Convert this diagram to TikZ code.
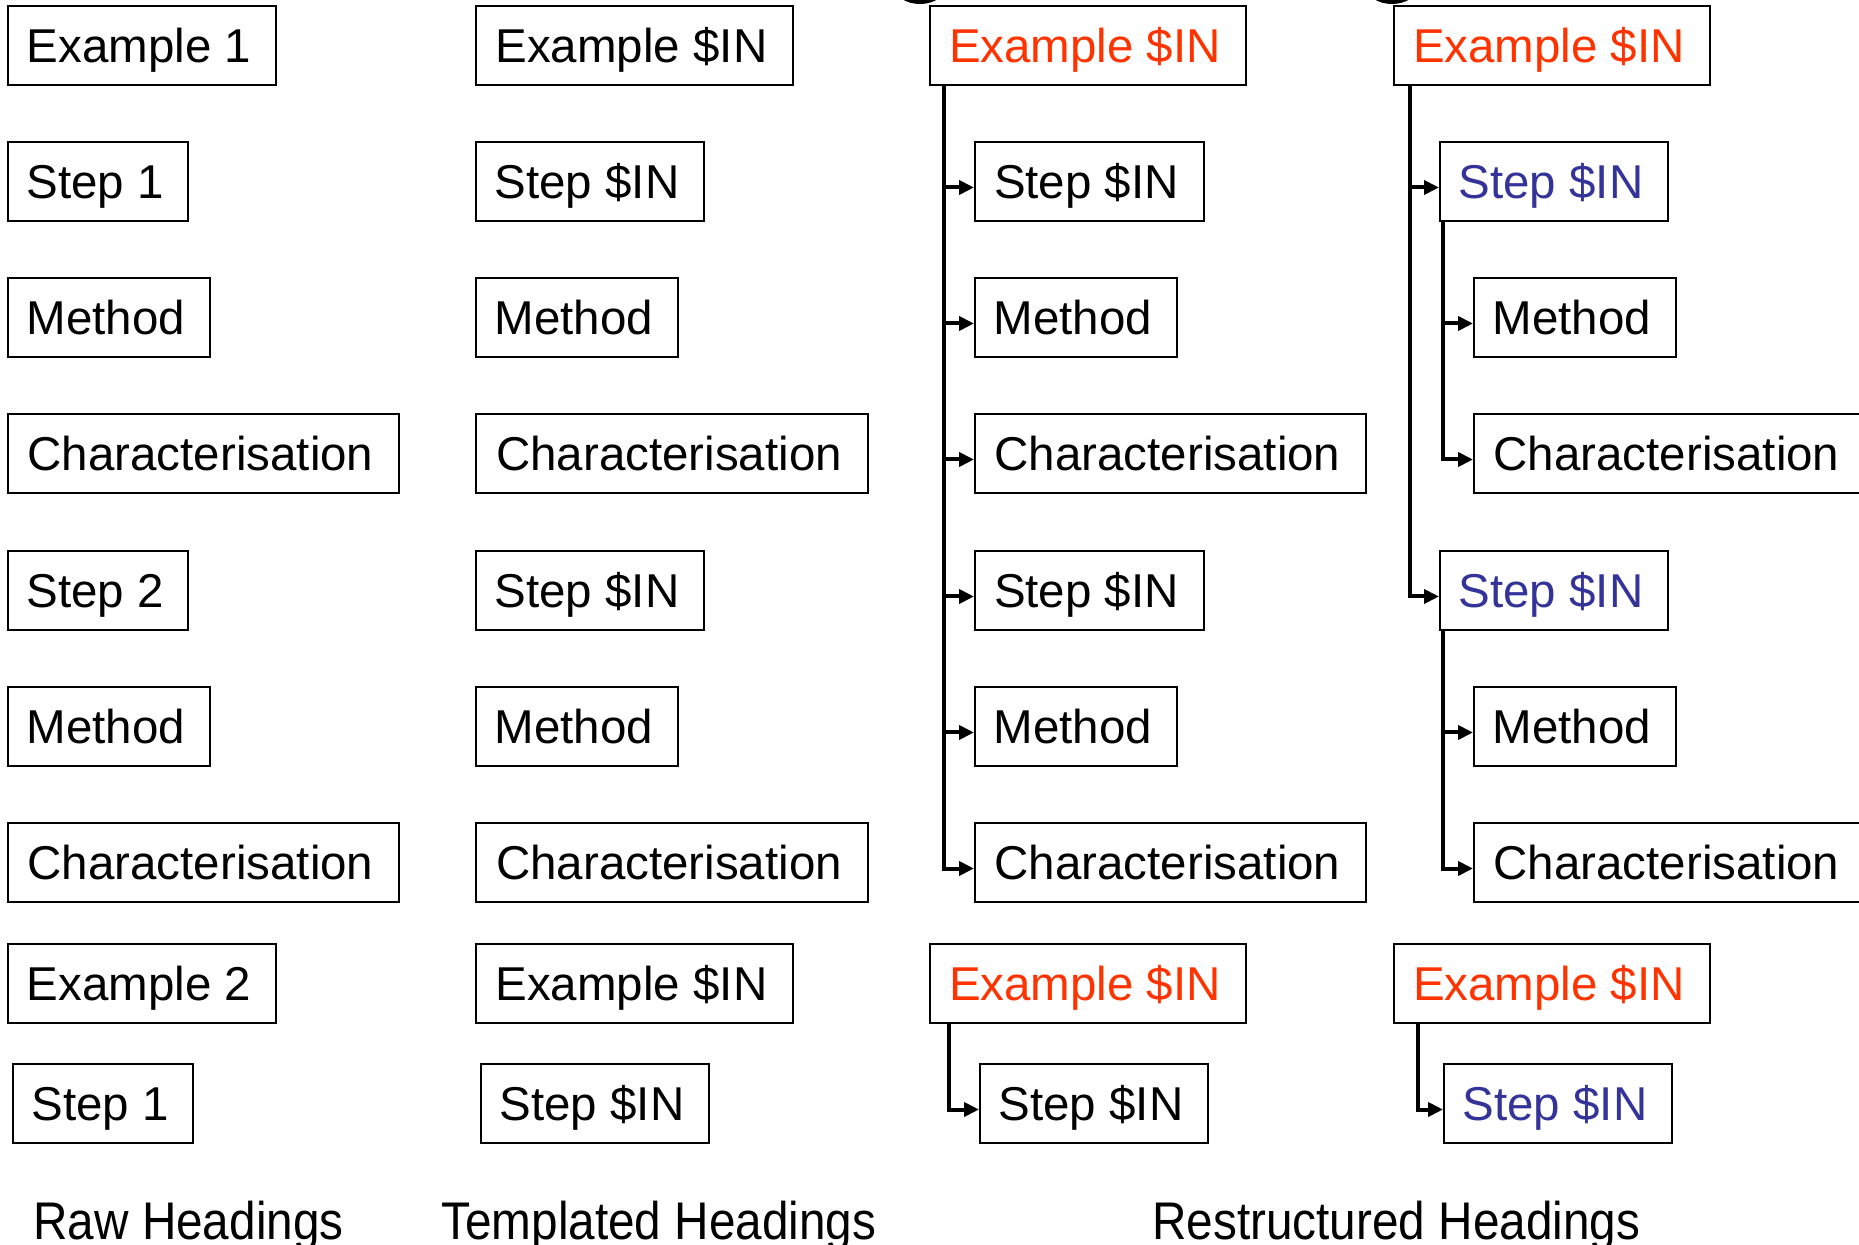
\documentclass[tikz,border=0pt]{standalone}
\usepackage{fontspec}
\setmainfont{Liberation Sans}
\newfontfamily\labelfont[FakeStretch=0.9]{Liberation Sans}
\usetikzlibrary{arrows.meta}
\definecolor{exred}{RGB}{255,51,0}
\definecolor{stblue}{RGB}{51,51,153}
\newcommand{\boxfont}{\fontsize{23.75pt}{28pt}\selectfont}
\newcommand{\labfont}{\labelfont\fontsize{26.5pt}{30pt}\selectfont}
\begin{document}
\begin{tikzpicture}[x=0.5pt,y=-0.5pt,
  hb/.style={draw, line width=1pt, anchor=north west, minimum width=#1,
    minimum height=39.5pt, inner sep=0pt, text height=17pt, text depth=0pt, font=\boxfont,
    execute at end node={\hspace*{3pt}}},
  red/.style={text=exred},
  blue/.style={text=stblue},
  conn/.style={line width=2pt, -{Triangle[length=7.5pt,width=7pt]}},
  lab/.style={anchor=base west, inner sep=0pt, font=\labfont}]
\useasboundingbox (0,0) rectangle (1859,1245);
\clip (0,0) rectangle (1859,1245);
% column 1: raw headings
\node[hb=134pt] (ae1) at (7,5) {Example 1};
\node[hb=90pt] (as1) at (7,141) {Step 1};
\node[hb=101pt] (am1) at (7,277) {Method};
\node[hb=195.5pt] (ac1) at (7,413) {Characterisation};
\node[hb=90pt] (as2) at (7,550) {Step 2};
\node[hb=101pt] (am2) at (7,686) {Method};
\node[hb=195.5pt] (ac2) at (7,822) {Characterisation};
\node[hb=134pt] (ae2) at (7,943) {Example 2};
\node[hb=90pt] (as3) at (12,1063) {Step 1};
% column 2: templated headings
\node[hb=158.5pt] (be1) at (475,5) {Example \$IN};
\node[hb=114pt] (bs1) at (475,141) {Step \$IN};
\node[hb=101pt] (bm1) at (475,277) {Method};
\node[hb=196pt] (bc1) at (475,413) {Characterisation};
\node[hb=114pt] (bs2) at (475,550) {Step \$IN};
\node[hb=101pt] (bm2) at (475,686) {Method};
\node[hb=196pt] (bc2) at (475,822) {Characterisation};
\node[hb=158.5pt] (be2) at (475,943) {Example \$IN};
\node[hb=114pt] (bs3) at (480,1063) {Step \$IN};
% column 3: restructured (flat)
\node[hb=158pt, red] (ce1) at (929,5) {Example \$IN};
\node[hb=114.5pt] (cs1) at (974,141) {Step \$IN};
\node[hb=101pt] (cm1) at (974,277) {Method};
\node[hb=195.5pt] (cc1) at (974,413) {Characterisation};
\node[hb=114.5pt] (cs2) at (974,550) {Step \$IN};
\node[hb=101pt] (cm2) at (974,686) {Method};
\node[hb=195.5pt] (cc2) at (974,822) {Characterisation};
\node[hb=158pt, red] (ce2) at (929,943) {Example \$IN};
\node[hb=114pt] (cs3) at (979,1063) {Step \$IN};
% column 4: restructured (nested)
\node[hb=158pt, red] (de1) at (1393,5) {Example \$IN};
\node[hb=114pt, blue] (ds1) at (1439,141) {Step \$IN};
\node[hb=101pt] (dm1) at (1473,277) {Method};
\node[hb=195.5pt] (dc1) at (1473,413) {Characterisation};
\node[hb=114pt, blue] (ds2) at (1439,550) {Step \$IN};
\node[hb=101pt] (dm2) at (1473,686) {Method};
\node[hb=195.5pt] (dc2) at (1473,822) {Characterisation};
\node[hb=158pt, red] (de2) at (1393,943) {Example \$IN};
\node[hb=114pt, blue] (ds3) at (1443,1063) {Step \$IN};
% cut-off markers at the top
\fill (920,-14) ellipse [x radius=13pt, y radius=9pt];
\fill (1392,-14) ellipse [x radius=13pt, y radius=9pt];
% connectors column 3
\foreach \n in {cs1,cm1,cc1,cs2,cm2,cc2}
  \draw[conn] ([xshift=7.5pt]ce1.south west) |- ([yshift=-3pt]\n.west);
\draw[conn] ([xshift=10pt]ce2.south west) |- ([yshift=-3pt]cs3.west);
% connectors column 4
\foreach \n in {ds1,ds2}
  \draw[conn] ([xshift=8.5pt]de1.south west) |- ([yshift=-3pt]\n.west);
\foreach \n in {dm1,dc1}
  \draw[conn] ([xshift=2pt]ds1.south west) |- ([yshift=-3pt]\n.west);
\foreach \n in {dm2,dc2}
  \draw[conn] ([xshift=2pt]ds2.south west) |- ([yshift=-3pt]\n.west);
\draw[conn] ([xshift=12.5pt]de2.south west) |- ([yshift=-3pt]ds3.west);
% captions
\node[lab] (lraw) at (33,1239) {Raw Headings};
\node[lab] (ltpl) at (441,1239) {Templated Headings};
\node[lab] (lres) at (1152,1239) {Restructured Headings};
\end{tikzpicture}
\end{document}
